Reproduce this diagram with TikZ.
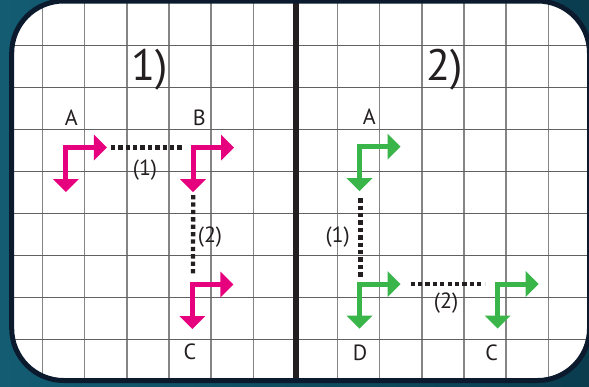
\documentclass[tikz,border=0pt]{standalone}
\usepackage{fontspec}
\setmainfont{PT Sans}
\definecolor{tealA}{HTML}{135C72}
\definecolor{tealB}{HTML}{0A3C4E}
\definecolor{navy}{HTML}{0C1A2E}
\definecolor{ink}{HTML}{231F20}
\definecolor{pinkc}{HTML}{E6007E}
\definecolor{greenc}{HTML}{39B54A}
\begin{document}
\begin{tikzpicture}[x=1pt,y=-1pt,
  vline/.style={draw=black!48, line width=1.4pt},
  hline/.style={draw=black!62, line width=1.3pt},
  lbl/.style={font=\fontsize{22}{24}\selectfont, text=ink, inner sep=0pt},
  big/.style={font=\fontsize{44}{48}\selectfont, text=ink, inner sep=0pt},
  dotline/.style={draw=ink, line width=4.3pt, dash pattern=on 4.3pt off 3.1pt},
  glyph/.pic={
    \draw[line width=5pt, line join=miter, line cap=butt] (0,32) -- (0,0) -- (29,0);
    \fill (-13,31.5) -- (13,31.5) -- (0,44.5) -- cycle;
    \fill (28,-13) -- (28,13) -- (41,0) -- cycle;
  }]
\useasboundingbox (0,0) rectangle (589,386);
% background
\shade[left color=tealA, right color=tealB] (0,0) rectangle (589,386);
\fill[white, rounded corners=52pt] (11.7,1) rectangle (589.5,380.5);
% grid
\begin{scope}
  \clip[rounded corners=52pt] (11.7,1) rectangle (589.5,380.5);
  \foreach \k in {0,...,5,7,8,9,10,11,12}
    \draw[vline] ({42.5+42.15*\k},0) -- ({42.5+42.15*\k},386);
  \foreach \k in {0,...,7}
    \draw[hline] (0,{45.7+41.94*\k}) -- (589,{45.7+41.94*\k});
\end{scope}
% divider
\draw[ink, line width=6pt] (296,0) -- (296,382);
% frame
\draw[navy, line width=5pt, rounded corners=52pt] (11.7,1) rectangle (589.5,380.5);

% titles
\node[big] (t1) at (150,70) {1)};
\node[big] (t2) at (445,70) {2)};

% glyph corners
\coordinate (cA1) at (65.8,147.5);
\coordinate (cB1) at (193,147.5);
\coordinate (cC1) at (192.3,284.5);
\coordinate (cA2) at (359.5,146.7);
\coordinate (cD2) at (359.5,284);
\coordinate (cC2) at (497.5,284);

% connectors (dotted)
\draw[dotline] ([xshift=45pt]cA1) -- ([xshift=-9pt]cB1);
\draw[dotline] ([yshift=-47.5pt,xshift=0.2pt]cB1) -- ([yshift=8.5pt,xshift=0.7pt]cC1);
\draw[dotline] ([yshift=-51.5pt,xshift=1pt]cA2) -- ([yshift=7pt,xshift=1pt]cD2);
\draw[dotline] ([xshift=51pt]cD2) -- ([xshift=-13pt]cC2);

% glyphs
\pic[color=pinkc] at (cA1) {glyph};
\pic[color=pinkc] at (cB1) {glyph};
\pic[color=pinkc] at (cC1) {glyph};
\pic[color=greenc] at (cA2) {glyph};
\pic[color=greenc] at (cD2) {glyph};
\pic[color=greenc] at (cC2) {glyph};

% labels
\node[lbl] (lA1) at (71.3,118) {A};
\node[lbl] (lB1) at (199.3,118) {B};
\node[lbl] (lC1) at (190,351.7) {C};
\node[lbl] (n11) at (145,170) {(1)};
\node[lbl] (n21) at (210,237) {(2)};
\node[lbl] (lA2) at (369.3,117) {A};
\node[lbl] (lD2) at (360,352.7) {D};
\node[lbl] (lC2) at (491.7,352.7) {C};
\node[lbl] (n12) at (337.7,236.7) {(1)};
\node[lbl] (n22) at (446,303.3) {(2)};
\end{tikzpicture}
\end{document}
